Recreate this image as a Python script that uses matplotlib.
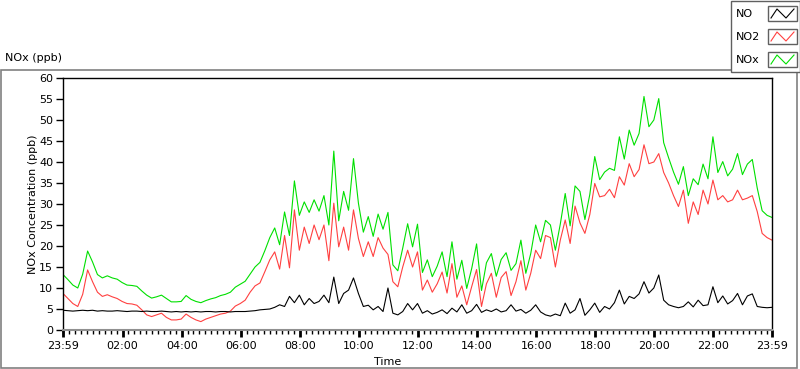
import matplotlib
matplotlib.use("Agg")
import matplotlib.pyplot as plt
from matplotlib.lines import Line2D
from matplotlib.patches import Rectangle
import numpy as np

# readings every 10 min, from 23:59 (previous day) to 23:59
start_hour = -1 / 60
step_hours = 10 / 60

no = [4.7, 4.6, 4.5, 4.6, 4.7, 4.6, 4.7, 4.5, 4.6, 4.5, 4.5, 4.6,
      4.5, 4.4, 4.5, 4.5, 4.4, 4.5, 4.4, 4.4, 4.5, 4.4, 4.3, 4.4,
      4.3, 4.4, 4.3, 4.4, 4.3, 4.4, 4.4, 4.3, 4.4, 4.4, 4.3, 4.4,
      4.4, 4.4, 4.5, 4.6, 4.8, 4.9, 5.0, 5.4, 6.0, 5.6, 8.0, 6.5,
      8.3, 6.0, 7.5, 6.3, 6.8, 8.3, 6.5, 12.6, 6.3, 8.7, 9.5, 12.4,
      8.7, 5.6, 5.9, 4.8, 5.6, 4.4, 10.0, 4.0, 3.6, 4.4, 6.3, 4.8,
      6.3, 4.0, 4.6, 3.8, 4.2, 4.8, 3.9, 5.2, 4.3, 6.0, 4.0, 4.6,
      6.1, 4.2, 4.8, 4.4, 5.0, 4.3, 4.6, 6.0, 4.5, 4.9, 4.0, 4.7,
      6.0, 4.3, 3.6, 3.3, 3.8, 3.4, 6.4, 4.0, 4.8, 7.5, 3.5, 4.8,
      6.4, 4.2, 5.6, 5.0, 6.5, 9.5, 6.2, 8.0, 7.5, 8.6, 11.5, 8.8,
      10.0, 13.1, 7.1, 6.0, 5.6, 5.3, 5.6, 6.7, 5.5, 7.1, 5.8, 6.0,
      10.3, 6.5, 8.1, 6.2, 7.0, 8.7, 6.0, 8.1, 8.6, 5.6, 5.4, 5.3,
      5.4]

no2 = [8.7, 7.5, 6.3, 5.6, 8.5, 14.3, 11.5, 9.0, 8.0, 8.4, 7.9, 7.5,
       6.8, 6.3, 6.2, 5.9, 4.8, 3.6, 3.2, 3.6, 4.0, 3.0, 2.4, 2.4,
       2.6, 3.8, 3.0, 2.4, 2.0, 2.6, 3.0, 3.4, 3.8, 4.0, 4.5, 5.7,
       6.3, 7.1, 9.0, 10.5, 11.2, 13.9, 16.7, 18.6, 14.5, 22.5, 14.8, 28.6,
       19.0, 24.5, 20.6, 25.0, 21.5, 25.0, 16.5, 30.2, 19.8, 24.5, 19.0, 28.6,
       21.8, 17.5, 21.0, 17.5, 22.0, 19.5, 18.0, 11.5, 10.3, 15.0, 19.0, 15.0,
       18.6, 9.5, 11.9, 9.0, 11.0, 13.8, 8.8, 15.8, 7.8, 10.5, 6.0, 10.3,
       14.4, 5.6, 11.0, 13.5, 7.8, 12.5, 13.9, 8.2, 11.5, 16.5, 9.5, 13.5,
       19.0, 17.0, 22.5, 22.0, 15.0, 21.4, 26.2, 20.6, 29.5, 25.5, 23.0, 27.5,
       34.9, 31.7, 32.0, 33.5, 31.5, 36.5, 34.5, 39.6, 36.5, 38.2, 44.1, 39.6,
       40.0, 42.0, 37.5, 35.0, 32.0, 29.4, 33.3, 25.4, 30.5, 27.5, 33.3, 30.0,
       35.7, 31.0, 32.0, 30.5, 31.0, 33.3, 31.0, 31.4, 32.0, 28.2, 23.0, 22.0,
       21.4]

nox = [13.2, 12.0, 10.7, 10.0, 13.3, 18.8, 16.2, 13.2, 12.4, 12.9, 12.4, 12.1,
       11.3, 10.7, 10.6, 10.4, 9.3, 8.3, 7.6, 7.9, 8.3, 7.5, 6.7, 6.7,
       6.8, 8.2, 7.3, 6.8, 6.5, 7.0, 7.4, 7.7, 8.2, 8.5, 9.0, 10.2,
       10.9, 11.6, 13.3, 15.0, 16.1, 18.9, 22.0, 24.3, 20.3, 28.1, 22.5, 35.5,
       27.3, 30.5, 28.0, 31.0, 28.3, 32.0, 25.0, 42.6, 26.0, 33.0, 28.5, 40.8,
       30.2, 23.3, 27.0, 22.3, 27.6, 24.0, 28.0, 15.5, 14.1, 19.5, 25.3, 19.8,
       25.2, 13.7, 16.7, 12.7, 15.2, 18.6, 12.7, 21.0, 12.1, 16.6, 9.9, 14.6,
       20.5, 9.4, 16.0, 18.2, 12.8, 16.8, 18.4, 14.2, 15.8, 21.4, 13.5, 18.2,
       25.0, 21.0, 26.1, 25.0, 19.0, 25.2, 32.5, 24.8, 34.3, 33.0, 26.3, 32.3,
       41.3, 35.8, 37.6, 38.5, 38.0, 46.0, 40.7, 47.6, 44.0, 46.8, 55.6, 48.4,
       50.0, 55.1, 44.6, 41.0, 37.6, 34.7, 38.9, 32.0, 36.0, 34.6, 39.5, 36.0,
       46.0, 37.5, 40.1, 36.7, 38.3, 42.0, 37.0, 39.5, 40.6, 33.8, 28.4, 27.3,
       26.8]

series_names = ["NO", "NO2", "NOx"]
series_colors = ["#000000", "#ff4040", "#00e000"]

major_hours = [-1 / 60, 2, 4, 6, 8, 10, 12, 14, 16, 18, 20, 22, 23 + 59 / 60]
major_labels = ["23:59", "02:00", "04:00", "06:00", "08:00", "10:00", "12:00",
                "14:00", "16:00", "18:00", "20:00", "22:00", "23:59"]

W, H = 800, 369
plt.rcParams["font.family"] = "DejaVu Sans"
fig = plt.figure(figsize=(W / 100, H / 100), dpi=100)


def fx(px):
    return px / W


def fy(py):
    return 1 - py / H


ax = fig.add_axes([fx(63), fy(330), fx(772) - fx(63), fy(78) - fy(330)])

hours = start_hour + step_hours * np.arange(len(nox))
for vals, col in zip([nox, no2, no], [series_colors[2], series_colors[1], series_colors[0]]):
    ax.plot(hours, vals, color=col, lw=0.8)

ax.set_xlim(major_hours[0], major_hours[-1])
ax.set_ylim(0, 60)
ax.set_yticks(range(0, 61, 5))
ax.set_xticks(major_hours)
ax.set_xticklabels(major_labels)
ax.set_xticks(np.arange(0, 24, 0.2), minor=True)
ax.tick_params(axis="both", labelsize=8, length=5, width=1, direction="out", pad=2)
ax.tick_params(axis="x", which="minor", length=3, width=1, direction="out")
ax.tick_params(axis="x", which="major", length=5, width=2, pad=3)
for s in ["top", "right", "left"]:
    ax.spines[s].set_color("black")
    ax.spines[s].set_linewidth(1)
ax.spines["bottom"].set_color("#909090")
ax.spines["bottom"].set_linewidth(1.5)
ax.set_ylabel("NOx Concentration (ppb)", fontsize=8, labelpad=1)
ax.set_xlabel("Time", fontsize=8)
ax.xaxis.set_label_coords((388 - 63) / 709, -(357 - 330) / 252)

# outer panel frame and title
fig.patches.append(Rectangle((fx(0.5), fy(367.5)), fx(797) - fx(0.5), fy(69.5) - fy(367.5),
                             transform=fig.transFigure, fill=False, ec="#808080", lw=1.2, zorder=0))
fig.text(fx(5), fy(58), "NOx (ppb)", fontsize=8, va="center", ha="left")

# legend box in the top right corner
fig.patches.append(Rectangle((fx(730.5), fy(72)), fx(799.5) - fx(730.5), fy(0.5) - fy(72),
                             transform=fig.transFigure, fc="white", ec="#606060", lw=1.0, zorder=5))
for k, (name, col) in enumerate(zip(series_names, series_colors)):
    top = 6 + 23 * k
    fig.text(fx(736), fy(top + 8), name, fontsize=8, va="center", ha="left", zorder=6)
    fig.patches.append(Rectangle((fx(768), fy(top + 15)), fx(797) - fx(768), fy(top) - fy(top + 15),
                                 transform=fig.transFigure, fc="white", ec="#606060", lw=1.0, zorder=6))
    zx = [771, 777, 786, 794]
    zy = [top + 12, top + 3, top + 12, top + 3]
    fig.lines.append(Line2D([fx(v) for v in zx], [fy(v) for v in zy], transform=fig.transFigure,
                            color=col, lw=0.8, zorder=7))

fig.savefig("out.png", dpi=100)
